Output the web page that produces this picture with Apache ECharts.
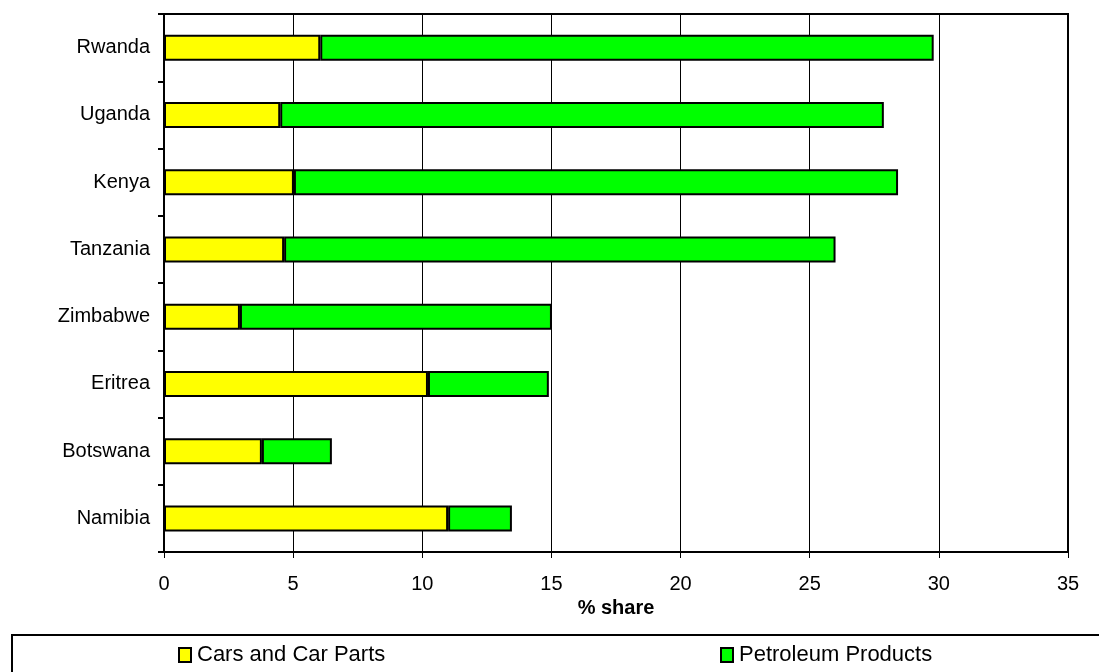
<!DOCTYPE html>
<html>
<head>
<meta charset="utf-8">
<script src="https://cdn.jsdelivr.net/npm/echarts@6/dist/echarts.min.js"></script>
<style>
  html, body { margin: 0; padding: 0; background: #fff; }
  #chart { width: 1099px; height: 672px; }
</style>
</head>
<body>
<div id="chart"></div>
<script>
// Countries listed top to bottom
const countries = ['Rwanda', 'Uganda', 'Kenya', 'Tanzania', 'Zimbabwe', 'Eritrea', 'Botswana', 'Namibia'];
// % share of imports by product group
const carsAndParts = [6.05, 4.5, 5.03, 4.65, 2.94, 10.22, 3.79, 11.0];
const petroleum = [23.75, 23.37, 23.39, 21.35, 12.08, 4.68, 2.71, 2.47];
const seriesNames = ['Cars and Car Parts', 'Petroleum Products'];
const xTicks = { min: 0, max: 35, interval: 5 };

const FONT = '"Liberation Sans", Arial, sans-serif';
const chart = echarts.init(document.getElementById('chart'), null, { renderer: 'canvas' });

const barStyle = (color) => ({ color: color, borderColor: '#000', borderWidth: 2 });

chart.setOption({
  animation: false,
  backgroundColor: '#fff',
  grid: {
    left: 164, right: 31, top: 14, bottom: 120,
    show: true, borderColor: '#000', borderWidth: 2, backgroundColor: 'transparent'
  },
  xAxis: {
    type: 'value',
    min: xTicks.min, max: xTicks.max, interval: xTicks.interval,
    name: '% share',
    nameLocation: 'middle',
    nameGap: 42,
    nameTextStyle: { fontFamily: FONT, fontSize: 20, fontWeight: 'bold', color: '#000' },
    axisLine: { show: true, lineStyle: { color: '#000', width: 2 } },
    axisTick: { show: true, length: 6, lineStyle: { color: '#000', width: 1 } },
    axisLabel: { fontFamily: FONT, fontSize: 20, color: '#000', margin: 22 },
    splitLine: { show: true, lineStyle: { color: '#000', width: 1 } }
  },
  yAxis: {
    type: 'category',
    data: countries,
    inverse: true,
    axisLine: { show: true, lineStyle: { color: '#000', width: 2 } },
    axisTick: { show: true, length: 6, lineStyle: { color: '#000', width: 2 } },
    axisLabel: { fontFamily: FONT, fontSize: 20, color: '#000', margin: 14 },
    splitLine: { show: false }
  },
  legend: [
    {
      data: [seriesNames[0]],
      left: 178, top: 644, padding: 0,
      icon: 'rect', itemWidth: 12, itemHeight: 14, itemGap: 0,
      itemStyle: { borderColor: '#000', borderWidth: 2 },
      textStyle: { fontFamily: FONT, fontSize: 22, color: '#000', padding: [0, 0, 0, 1] }
    },
    {
      data: [seriesNames[1]],
      left: 720, top: 644, padding: 0,
      icon: 'rect', itemWidth: 12, itemHeight: 14, itemGap: 0,
      itemStyle: { borderColor: '#000', borderWidth: 2 },
      textStyle: { fontFamily: FONT, fontSize: 22, color: '#000', padding: [0, 0, 0, 1] }
    }
  ],
  graphic: [
    {
      type: 'rect',
      shape: { x: 12, y: 635, width: 1100, height: 60 },
      style: { fill: 'none', stroke: '#000', lineWidth: 2 },
      silent: true
    }
  ],
  series: [
    {
      name: seriesNames[0],
      type: 'bar',
      stack: 'share',
      barWidth: 26,
      data: carsAndParts,
      itemStyle: barStyle('#FFFF00')
    },
    {
      name: seriesNames[1],
      type: 'bar',
      stack: 'share',
      barWidth: 26,
      data: petroleum,
      itemStyle: barStyle('#00FF00')
    }
  ]
});
</script>
</body>
</html>
